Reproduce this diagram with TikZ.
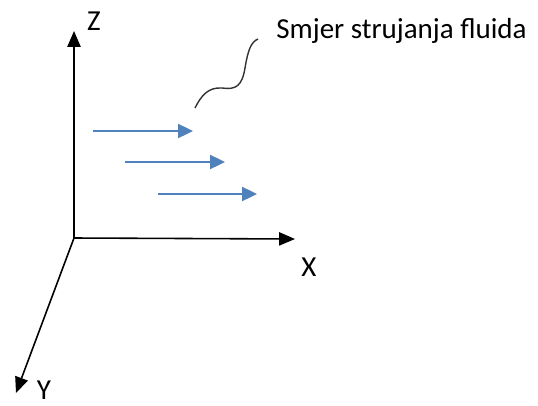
\documentclass[tikz,border=0pt]{standalone}
\usepackage{fontspec}
\setmainfont{Carlito}
\usetikzlibrary{arrows.meta}
\definecolor{flowblue}{RGB}{79,129,189}
\tikzset{
  axis/.style={line width=0.9pt, -{Triangle[length=9pt, width=7.5pt]}},
  flow/.style={flowblue, line width=1.1pt, -{Triangle[length=8.5pt, width=8pt]}},
  lbl/.style={font=\fontsize{16.5}{19}\selectfont, inner sep=0pt}
}
\begin{document}
\begin{tikzpicture}[x=0.02cm, y=-0.02cm]
  \useasboundingbox (0,0) rectangle (538,406);
  \coordinate (O) at (74,238); \coordinate (Zt) at (74,31); \coordinate (Xt) at (295,239); \coordinate (Yt) at (16,393);
  % osi
  \draw[axis] (O) -- (Zt);
  \draw[axis] (O) -- (Xt);
  \draw[axis] (O) -- (Yt);
  \node[lbl] (Z) at (94,21) {Z};
  \node[lbl] (X) at (309,267) {X};
  \node[lbl] (Y) at (44,390) {Y};
  % strujanje
  \coordinate (a1) at (93,131); \coordinate (b1) at (193,131);
  \coordinate (a2) at (125,162); \coordinate (b2) at (225,162);
  \coordinate (a3) at (158,194); \coordinate (b3) at (257,194);
  \draw[flow] (a1) -- (b1);
  \draw[flow] (a2) -- (b2);
  \draw[flow] (a3) -- (b3);
  % oznaka
  \node[lbl, anchor=west] (T) at (276,31) {Smjer strujanja fluida};
  \coordinate (W) at (195,108);
  \draw[line width=0.8pt, black!80] (W) .. controls (201,96) and (208,87) .. (222,88)
    .. controls (236,90) and (242,86) .. (245,68)
    .. controls (248,50) and (251,42) .. (258,39);
\end{tikzpicture}
\end{document}
